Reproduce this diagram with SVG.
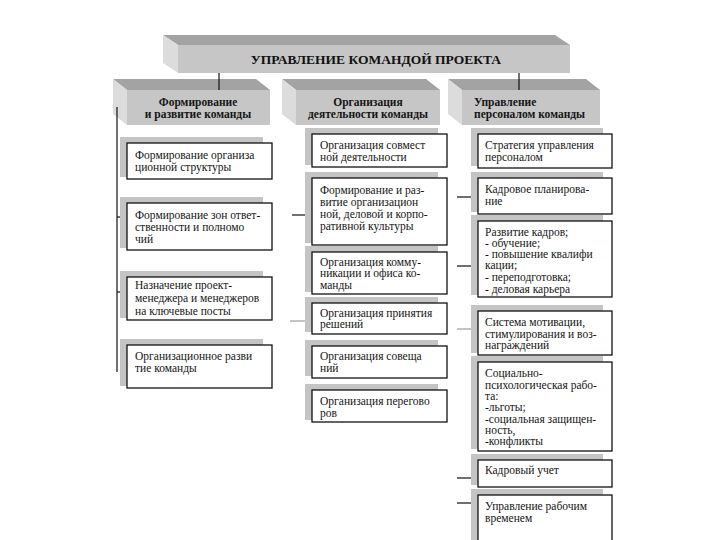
<svg xmlns="http://www.w3.org/2000/svg" width="720" height="540" viewBox="0 0 720 540">
<style>
.bg{fill:#ffffff}
.topf{fill:#a3a3a3}
.front{fill:#c6c6c6}
.side{fill:#dcdcdc}
.sh{fill:#c4c4c4}
.bx{fill:#ffffff;stroke:#111;stroke-width:1.3}
.t{font-family:"Liberation Serif","Times New Roman","DejaVu Serif",serif;font-size:11.5px;fill:#151515}
.h{font-family:"Liberation Serif","Times New Roman","DejaVu Serif",serif;font-size:11.5px;font-weight:bold;fill:#151515}
.ttl{font-family:"Liberation Serif","Times New Roman","DejaVu Serif",serif;font-size:13.5px;font-weight:bold;fill:#111}
.ln{stroke:#111;stroke-width:1.2;fill:none}
.lg{stroke:#888;stroke-width:1;fill:none}
</style>
<rect class="bg" x="0" y="0" width="720" height="540"/>

<g id="title">
<polygon class="topf" points="163,35 555,35 570,45 178,45"/>
<polygon class="side" points="163,35 178,45 178,73 163,63"/>
<rect class="front" x="178" y="45" width="392" height="28"/>
<text class="ttl" x="376" y="64" text-anchor="middle">УПРАВЛЕНИЕ КОМАНДОЙ ПРОЕКТА</text>
</g>

<g id="h-left">
<polygon class="topf" points="113,79 256,79 270,90 127,90"/>
<polygon class="side" points="113,79 127,90 127,125 113,114"/>
<rect class="front" x="127" y="90" width="143" height="35"/>
<text class="h" x="198" y="106" text-anchor="middle">Формирование</text>
<text class="h" x="198" y="118" text-anchor="middle">и развитие команды</text>
</g>

<g id="h-mid">
<polygon class="topf" points="282,79 426,79 440,90 296,90"/>
<polygon class="side" points="282,79 296,90 296,125 282,114"/>
<rect class="front" x="296" y="90" width="144" height="35"/>
<text class="h" x="368" y="106" text-anchor="middle">Организация</text>
<text class="h" x="368" y="118" text-anchor="middle">деятельности команды</text>
</g>

<g id="h-right">
<polygon class="topf" points="448,79 586,79 600,90 462,90"/>
<polygon class="side" points="448,79 462,90 462,125 448,114"/>
<rect class="front" x="462" y="90" width="138" height="35"/>
<text class="h" x="474" y="106">Управление</text>
<text class="h" x="474" y="118">персоналом команды</text>
</g>

<g id="connectors">
<line class="ln" x1="219" y1="73" x2="219" y2="90"/>
<line class="ln" x1="519" y1="73" x2="519" y2="90"/>
<line class="ln" x1="117" y1="107" x2="117" y2="372"/>
<line class="ln" x1="117" y1="217" x2="127" y2="217"/>
<line class="ln" x1="117" y1="292" x2="127" y2="292"/>
<line class="ln" x1="292" y1="215" x2="312" y2="215"/>
<line class="lg" x1="290" y1="321" x2="312" y2="321"/>
<line class="ln" x1="457" y1="197" x2="478" y2="197"/>
<line class="ln" x1="457" y1="266" x2="478" y2="266"/>
<line class="lg" x1="457" y1="329" x2="478" y2="329"/>
<line class="ln" x1="457" y1="478" x2="478" y2="478"/>
<line class="ln" x1="457" y1="503" x2="478" y2="503"/>
</g>

<g id="l1">
<rect class="sh" x="120" y="137" width="143" height="40"/>
<rect class="bx" x="127" y="143" width="145" height="36"/>
<text class="t" x="135" y="159">Формирование организа</text>
<text class="t" x="135" y="171">ционной структуры</text>
</g>
<g id="l2">
<rect class="sh" x="120" y="197" width="143" height="51"/>
<rect class="bx" x="127" y="203" width="145" height="47"/>
<text class="t" x="135" y="219">Формирование зон ответ-</text>
<text class="t" x="135" y="231">ственности и полномо</text>
<text class="t" x="135" y="243">чий</text>
</g>
<g id="l3">
<rect class="sh" x="120" y="271" width="143" height="47"/>
<rect class="bx" x="127" y="277" width="145" height="43"/>
<text class="t" x="135" y="289">Назначение проект-</text>
<text class="t" x="135" y="302">менеджера и менеджеров</text>
<text class="t" x="135" y="315">на ключевые посты</text>
</g>
<g id="l4">
<rect class="sh" x="120" y="339" width="143" height="47"/>
<rect class="bx" x="127" y="345" width="145" height="43"/>
<text class="t" x="135" y="360">Организационное разви</text>
<text class="t" x="135" y="372">тие команды</text>
</g>

<g id="m1">
<rect class="sh" x="305" y="128" width="133" height="37"/>
<rect class="bx" x="312" y="134" width="135" height="33"/>
<text class="t" x="320" y="149">Организация совмест</text>
<text class="t" x="320" y="161">ной деятельности</text>
</g>
<g id="m2">
<rect class="sh" x="305" y="172" width="133" height="71"/>
<rect class="bx" x="312" y="178" width="135" height="67"/>
<text class="t" x="320" y="194">Формирование и раз-</text>
<text class="t" x="320" y="206">витие организацион</text>
<text class="t" x="320" y="218">ной, деловой  и корпо-</text>
<text class="t" x="320" y="230">ративной культуры</text>
</g>
<g id="m3">
<rect class="sh" x="305" y="246" width="133" height="46"/>
<rect class="bx" x="312" y="252" width="135" height="42"/>
<text class="t" x="320" y="266">Организация  комму-</text>
<text class="t" x="320" y="277">никации и офиса ко-</text>
<text class="t" x="320" y="289">манды</text>
</g>
<g id="m4">
<rect class="sh" x="305" y="297" width="133" height="35"/>
<rect class="bx" x="312" y="303" width="135" height="31"/>
<text class="t" x="320" y="317">Организация принятия</text>
<text class="t" x="320" y="328">решений</text>
</g>
<g id="m5">
<rect class="sh" x="305" y="340" width="133" height="36"/>
<rect class="bx" x="312" y="346" width="135" height="32"/>
<text class="t" x="320" y="360">Организация совеща</text>
<text class="t" x="320" y="372">ний</text>
</g>
<g id="m6">
<rect class="sh" x="305" y="384" width="133" height="36"/>
<rect class="bx" x="312" y="390" width="135" height="32"/>
<text class="t" x="320" y="405">Организация перегово</text>
<text class="t" x="320" y="417">ров</text>
</g>

<g id="r1">
<rect class="sh" x="471" y="128" width="132" height="38"/>
<rect class="bx" x="478" y="134" width="134" height="34"/>
<text class="t" x="485" y="149">Стратегия управления</text>
<text class="t" x="485" y="161">персоналом</text>
</g>
<g id="r2">
<rect class="sh" x="471" y="172" width="132" height="40"/>
<rect class="bx" x="478" y="178" width="134" height="36"/>
<text class="t" x="485" y="193">Кадровое планирова-</text>
<text class="t" x="485" y="205">ние</text>
</g>
<g id="r3">
<rect class="sh" x="471" y="215" width="132" height="80"/>
<rect class="bx" x="478" y="221" width="134" height="76"/>
<text class="t" x="485" y="236">Развитие кадров;</text>
<text class="t" x="485" y="247"> - обучение;</text>
<text class="t" x="485" y="258">- повышение квалифи</text>
<text class="t" x="485" y="269">кации;</text>
<text class="t" x="485" y="281">- переподготовка;</text>
<text class="t" x="485" y="293">- деловая карьера</text>
</g>
<g id="r4">
<rect class="sh" x="471" y="305" width="132" height="48"/>
<rect class="bx" x="478" y="311" width="134" height="44"/>
<text class="t" x="485" y="326">Система мотивации,</text>
<text class="t" x="485" y="338">стимулирования и воз-</text>
<text class="t" x="485" y="349">награждений</text>
</g>
<g id="r5">
<rect class="sh" x="471" y="356" width="132" height="93"/>
<rect class="bx" x="478" y="362" width="134" height="89"/>
<text class="t" x="485" y="377">Социально-</text>
<text class="t" x="485" y="389">психологическая рабо-</text>
<text class="t" x="485" y="400">та:</text>
<text class="t" x="485" y="411">-льготы;</text>
<text class="t" x="485" y="423">-социальная защищен-</text>
<text class="t" x="485" y="434">ность,</text>
<text class="t" x="485" y="445">-конфликты</text>
</g>
<g id="r6">
<rect class="sh" x="471" y="454" width="132" height="31"/>
<rect class="bx" x="478" y="460" width="134" height="27"/>
<text class="t" x="485" y="474">Кадровый учет</text>
</g>
<g id="r7">
<rect class="sh" x="471" y="489" width="132" height="60"/>
<rect class="bx" x="478" y="495" width="134" height="56"/>
<text class="t" x="485" y="510">Управление рабочим</text>
<text class="t" x="485" y="522">временем</text>
</g>
</svg>
